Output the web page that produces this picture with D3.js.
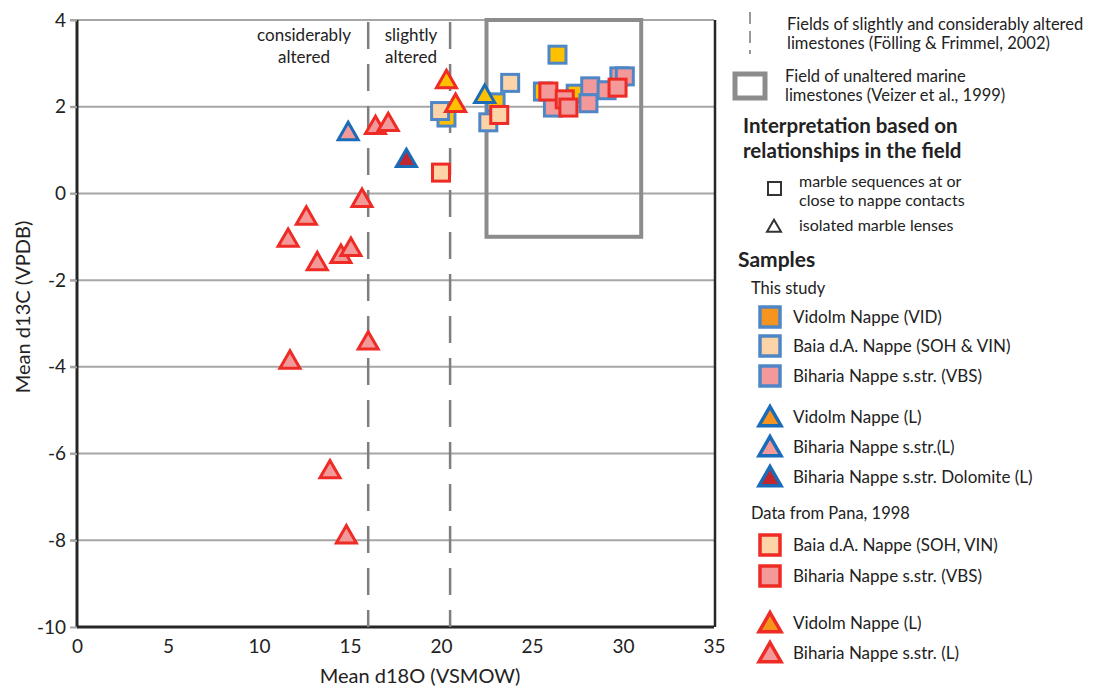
<!DOCTYPE html>
<html>
<head>
<meta charset="utf-8">
<script src="https://cdn.jsdelivr.net/npm/d3@7"></script>
<style>
  body { margin: 0; background: #fff; }
  svg text { font-family: Lato, "Open Sans", sans-serif; fill: #222; }
</style>
</head>
<body>
<div id="chart"></div>
<script>
// data (d18O VSMOW, d13C VPDB)
var vidSquares   = [[26.4, 3.2], [20.3, 1.75], [23.0, 2.1], [25.6, 2.35], [27.4, 2.3]];
var baiaSquares  = [[19.95, 1.9], [23.8, 2.55], [22.6, 1.64]];
var bihSquares   = [[26.15, 1.98], [28.2, 2.47], [28.1, 2.08], [29.1, 2.38], [29.8, 2.7], [30.1, 2.7]];
var panaBaiaSquares = [[20.0, 0.48], [23.2, 1.81]];
var panaBihSquares  = [[25.9, 2.35], [26.8, 2.17], [27.0, 1.98], [29.7, 2.44]];
var vidTriangles = [[22.4, 2.26]];
var bihTriangles = [[14.9, 1.4]];
var dolTriangles = [[18.1, 0.78]];
var panaVidTriangles = [[20.3, 2.6], [20.8, 2.05]];
var panaBihTriangles = [[11.6, -1.06], [12.6, -0.55], [13.2, -1.6], [14.5, -1.43], [15.05, -1.27],
  [15.66, -0.14], [16.0, -3.43], [11.7, -3.87], [13.9, -6.4], [14.8, -7.9], [16.4, 1.54], [17.1, 1.61]];

var xTicks = [0, 5, 10, 15, 20, 25, 30, 35];
var yTicks = [-10, -8, -6, -4, -2, 0, 2, 4];
var alteredLines = [16, 20.5];
var unalteredBox = {x0: 22.5, x1: 31, y0: -1, y1: 4};

var blueSq = '#4f86c6', blueTri = '#1b6cb8', red = '#ee2b24';
var yellow = '#ffc000', orange = '#f7941d', peach = '#fdd3a8', pink = '#f4999a', darkred = '#c1272d';

var svg = d3.select('#chart').append('svg').attr('width', 1110).attr('height', 691);

var scaleX = d3.scaleLinear().domain([0, 35]).range([77, 714]);
var scaleY = d3.scaleLinear().domain([-10, 4]).range([627, 20]);

// gridlines
svg.append('g').selectAll('line').data(yTicks.filter(function(d){ return d > -10; })).enter()
  .append('line')
  .attr('x1', scaleX(0) - 7).attr('x2', scaleX(35))
  .attr('y1', function(d){ return scaleY(d); }).attr('y2', function(d){ return scaleY(d); })
  .attr('stroke', '#a6a6a6').attr('stroke-width', 2);

// axes (hyphen minus like the original)
var axisY = d3.axisLeft(scaleY).tickValues(yTicks).tickSize(7).tickPadding(4).tickFormat(String);
var axisX = d3.axisBottom(scaleX).tickValues(xTicks).tickSize(0).tickPadding(13).tickFormat(String);
var gy = svg.append('g').attr('transform', 'translate(' + scaleX(0) + ',0)').call(axisY);
var gx = svg.append('g').attr('transform', 'translate(0,' + scaleY(-10) + ')').call(axisX);
[gx, gy].forEach(function(g){
  g.select('.domain').attr('stroke', '#262626').attr('stroke-width', 3);
  g.selectAll('.tick line').attr('stroke', '#a6a6a6').attr('stroke-width', 2);
  g.selectAll('text').style('font-family', 'Lato, sans-serif').style('font-size', '19px').attr('fill', '#222');
});
gy.select('.domain').attr('d', 'M0,' + scaleY(4) + 'V' + scaleY(-10));
gx.select('.domain').attr('d', 'M' + scaleX(0) + ',0H' + scaleX(35));
svg.append('line').attr('x1', scaleX(35) + 1).attr('x2', scaleX(35) + 1)
  .attr('y1', scaleY(4)).attr('y2', scaleY(-10)).attr('stroke', '#262626').attr('stroke-width', 2.5);

svg.append('text').attr('x', 420).attr('y', 683).attr('text-anchor', 'middle')
  .style('font-size', '20px').text('Mean d18O (VSMOW)');
svg.append('text').attr('transform', 'translate(30,307) rotate(-90)').attr('text-anchor', 'middle')
  .style('font-size', '20px').text('Mean d13C (VPDB)');

// fields
svg.append('g').selectAll('line').data(alteredLines).enter().append('line')
  .attr('x1', function(d){ return scaleX(d); }).attr('x2', function(d){ return scaleX(d); })
  .attr('y1', scaleY(4) + 2).attr('y2', scaleY(-10))
  .attr('stroke', '#7f7f7f').attr('stroke-width', 2.5).attr('stroke-dasharray', '27,15');
svg.append('rect')
  .attr('x', scaleX(unalteredBox.x0)).attr('y', scaleY(unalteredBox.y1))
  .attr('width', scaleX(unalteredBox.x1) - scaleX(unalteredBox.x0))
  .attr('height', scaleY(unalteredBox.y0) - scaleY(unalteredBox.y1))
  .attr('fill', 'none').attr('stroke', '#8c8c8c').attr('stroke-width', 4);

var fieldLabels = svg.append('g').style('font-size', '17px').attr('text-anchor', 'middle');
fieldLabels.append('text').attr('x', 304).attr('y', 41).text('considerably');
fieldLabels.append('text').attr('x', 304).attr('y', 63).text('altered');
fieldLabels.append('text').attr('x', 411).attr('y', 41).text('slightly');
fieldLabels.append('text').attr('x', 411).attr('y', 63).text('altered');

// marker helpers
function triPath(cx, cy, s) {
  var h = s * 0.87;
  return 'M' + cx + ',' + (cy - h * 0.6) + 'L' + (cx + s / 2) + ',' + (cy + h * 0.4) + 'L' + (cx - s / 2) + ',' + (cy + h * 0.4) + 'Z';
}
function drawSquares(data, fill, stroke) {
  svg.append('g').selectAll('rect').data(data).enter().append('rect')
    .attr('x', function(d){ return scaleX(d[0]) - 8.5; })
    .attr('y', function(d){ return scaleY(d[1]) - 8.5; })
    .attr('width', 17).attr('height', 17)
    .attr('fill', fill).attr('stroke', stroke).attr('stroke-width', 3);
}
function drawTriangles(data, fill, stroke) {
  svg.append('g').selectAll('path').data(data).enter().append('path')
    .attr('d', function(d){ return triPath(scaleX(d[0]), scaleY(d[1]), 20); })
    .attr('fill', fill).attr('stroke', stroke).attr('stroke-width', 3).attr('stroke-linejoin', 'miter');
}

drawTriangles(panaBihTriangles, pink, red);
drawTriangles(bihTriangles, pink, blueTri);
drawTriangles(dolTriangles, darkred, blueTri);
drawSquares(vidSquares, yellow, blueSq);
drawSquares(baiaSquares, peach, blueSq);
drawSquares(bihSquares, pink, blueSq);
drawSquares(panaBaiaSquares, peach, red);
drawSquares(panaBihSquares, pink, red);
drawTriangles(vidTriangles, yellow, blueTri);
drawTriangles(panaVidTriangles, yellow, red);

// legend
var lg = svg.append('g');
var fs = '16px';
lg.append('line').attr('x1', 750).attr('x2', 750).attr('y1', 12).attr('y2', 54)
  .attr('stroke', '#999').attr('stroke-width', 2).attr('stroke-dasharray', '12,7');
lg.append('text').attr('x', 787).attr('y', 30).style('font-size', '16.5px').text('Fields of slightly and considerably altered');
lg.append('text').attr('x', 787).attr('y', 49).style('font-size', '16.5px').text('limestones (Fölling & Frimmel, 2002)');
lg.append('rect').attr('x', 735).attr('y', 74).attr('width', 30).attr('height', 24)
  .attr('fill', 'none').attr('stroke', '#8c8c8c').attr('stroke-width', 5);
lg.append('text').attr('x', 785).attr('y', 82).style('font-size', '16.5px').text('Field of unaltered marine');
lg.append('text').attr('x', 785).attr('y', 101).style('font-size', '16.5px').text('limestones (Veizer et al., 1999)');
lg.append('text').attr('x', 743).attr('y', 133).style('font-size', '20.5px').style('font-weight', 'bold').text('Interpretation based on');
lg.append('text').attr('x', 743).attr('y', 158).style('font-size', '20.5px').style('font-weight', 'bold').text('relationships in the field');
lg.append('rect').attr('x', 768).attr('y', 182).attr('width', 13).attr('height', 13)
  .attr('fill', 'none').attr('stroke', '#333').attr('stroke-width', 2);
lg.append('text').attr('x', 799).attr('y', 187).style('font-size', fs).text('marble sequences at or');
lg.append('text').attr('x', 799).attr('y', 206).style('font-size', fs).text('close to nappe contacts');
lg.append('path').attr('d', triPath(774, 227, 14)).attr('fill', 'none').attr('stroke', '#333').attr('stroke-width', 2);
lg.append('text').attr('x', 799).attr('y', 231).style('font-size', fs).text('isolated marble lenses');
lg.append('text').attr('x', 738).attr('y', 267).style('font-size', '21px').style('font-weight', 'bold').text('Samples');
lg.append('text').attr('x', 751).attr('y', 294).style('font-size', '16.5px').text('This study');
lg.append('text').attr('x', 751).attr('y', 519).style('font-size', '16.5px').text('Data from Pana, 1998');

var legendItems = [
  {shape: 'sq', fill: orange, stroke: blueSq, y: 317, label: 'Vidolm Nappe (VID)'},
  {shape: 'sq', fill: peach, stroke: blueSq, y: 346, label: 'Baia d.A. Nappe (SOH & VIN)'},
  {shape: 'sq', fill: pink, stroke: blueSq, y: 376, label: 'Biharia Nappe s.str. (VBS)'},
  {shape: 'tri', fill: orange, stroke: blueTri, y: 417, label: 'Vidolm Nappe (L)'},
  {shape: 'tri', fill: pink, stroke: blueTri, y: 447, label: 'Biharia Nappe s.str.(L)'},
  {shape: 'tri', fill: darkred, stroke: blueTri, y: 477, label: 'Biharia Nappe s.str. Dolomite (L)'},
  {shape: 'sq', fill: peach, stroke: red, y: 545, label: 'Baia d.A. Nappe (SOH, VIN)'},
  {shape: 'sq', fill: pink, stroke: red, y: 576, label: 'Biharia Nappe s.str. (VBS)'},
  {shape: 'tri', fill: orange, stroke: red, y: 623, label: 'Vidolm Nappe (L)'},
  {shape: 'tri', fill: pink, stroke: red, y: 653, label: 'Biharia Nappe s.str. (L)'}
];
legendItems.forEach(function(it){
  if (it.shape === 'sq') {
    lg.append('rect').attr('x', 760).attr('y', it.y - 10).attr('width', 20).attr('height', 20)
      .attr('fill', it.fill).attr('stroke', it.stroke).attr('stroke-width', 3.5);
  } else {
    lg.append('path').attr('d', triPath(770, it.y + 1, 22)).attr('fill', it.fill)
      .attr('stroke', it.stroke).attr('stroke-width', 3.5);
  }
  lg.append('text').attr('x', 793).attr('y', it.y + 6).style('font-size', '17px').text(it.label);
});
</script>
</body>
</html>
